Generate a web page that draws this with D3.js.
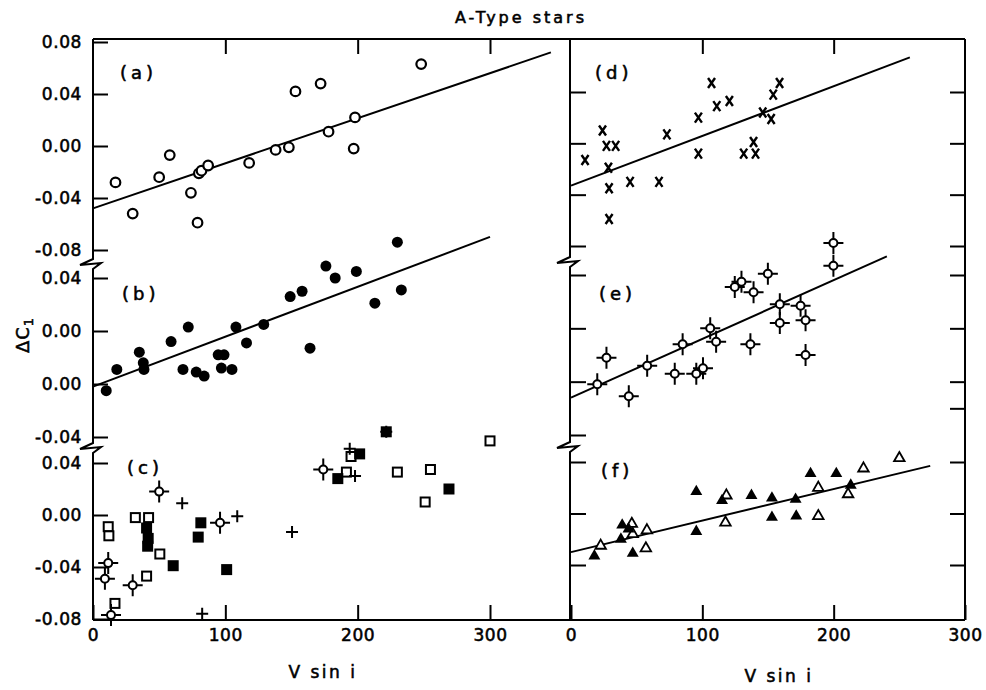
<!DOCTYPE html>
<html>
<head>
<meta charset="utf-8">
<script src="https://cdn.jsdelivr.net/npm/d3@7"></script>
<style>
  body { margin: 0; background: #fff; }
  text { font-family: "DejaVu Sans", sans-serif; fill: #000; stroke: #000; stroke-width: 0.55px; }
</style>
</head>
<body>
<svg width="986" height="690"></svg>
<script>
// --- data (V sin i, delta c1) ---
var xTicks = [0, 100, 200, 300];

var aOpen = [[17,-0.028],[30,-0.052],[50,-0.024],[58,-0.007],[74,-0.036],[79,-0.059],[80,-0.021],[82,-0.019],
             [87,-0.015],[118,-0.013],[138,-0.003],[148,-0.001],[153,0.042],[172,0.048],[178,0.011],
             [198,0.022],[197,-0.002],[248,0.063]];
var aLine = [[0,-0.048],[346,0.072]];

var bFilled = [[10,-0.045],[18,-0.029],[35,-0.016],[38,-0.024],[38.5,-0.029],[59,-0.008],[68,-0.029],[72,0.003],
               [78,-0.031],[84,-0.034],[94.6,-0.018],[99,-0.018],[97,-0.028],[105,-0.029],[108,0.003],
               [116,-0.009],[129,0.005],[149,0.026],[158,0.030],[164,-0.013],[176,0.049],[183,0.040],
               [199,0.045],[213,0.021],[233,0.031],[230,0.067]];
var bLine = [[0,-0.042],[300,0.071]];

var cOpenSq = [[11.5,-0.009],[12,-0.016],[32,-0.002],[42,-0.002],[50.5,-0.030],[40.5,-0.047],[16.6,-0.068],
               [195,0.045],[191.5,0.033],[230,0.033],[255,0.035],[251,0.010],[300,0.057]];
var cFilledSq = [[40.5,-0.010],[41.7,-0.018],[41.3,-0.024],[60.6,-0.039],[81.5,-0.006],[79.5,-0.017],
                 [101,-0.042],[185,0.028],[201.5,0.047],[269,0.020],[221.6,0.064]];
var cPlus = [[67.4,0.009],[109,-0.001],[150.4,-0.013],[82.5,-0.076],[194,0.051],[198,0.030],[221.6,0.064]];
var cCircCross = [[50,0.018],[96,-0.006],[30,-0.054],[9,-0.049],[11.5,-0.037],[13.6,-0.077],[174,0.035]];

var dCross = [[10.7,-0.013],[24,0.010],[27,-0.002],[34,-0.002],[28.5,-0.019],[29,-0.035],[29,-0.059],[45,-0.030],
              [67,-0.030],[73,0.007],[97,0.020],[97,-0.008],[107,0.047],[111,0.029],[120.6,0.033],
              [131.5,-0.008],[140.5,-0.008],[139,0.001],[146,0.024],[152.4,0.019],[154,0.038],[158.8,0.047]];
var dLine = [[0,-0.033],[258,0.067]];

var eCircCross = [[20,-0.042],[27,-0.022],[44,-0.051],[58,-0.028],[79,-0.034],[85,-0.012],[95.4,-0.034],
                  [100.5,-0.030],[106,0.000],[110.5,-0.010],[124.7,0.031],[129.8,0.035],[139,0.027],
                  [136.6,-0.012],[149.9,0.041],[159,0.018],[159,0.004],[174.8,0.017],[178.6,0.006],
                  [178.6,-0.020],[199.8,0.064],[199.8,0.047]];
var eLine = [[0,-0.052],[240.5,0.054]];

var fFilled = [[17.8,-0.033],[38,-0.020],[39,-0.009],[43.8,-0.012],[47,-0.031],[95.4,0.017],[95.4,-0.014],
               [115,0.010],[137.4,0.014],[153,0.012],[153,-0.003],[171,0.011],[171.5,-0.002],[182.4,0.031],
               [202,0.031],[213,0.022]];
var fOpen = [[22.6,-0.025],[46.3,-0.008],[47,-0.016],[57.8,-0.013],[57,-0.027],[118.3,0.014],[117.6,-0.007],
             [188.3,0.020],[188.3,-0.002],[211,0.015],[222.7,0.035],[250,0.043]];
var fLine = [[0,-0.030],[273.5,0.037]];

// tick values and their printed labels (the figure prints 0.00 twice in (b))
var aTicks = [0.08, 0.04, 0, -0.04, -0.08], aLabels = ["0.08","0.04","0.00","-0.04","-0.08"];
var bTicks = [0.04, 0, -0.04, -0.08],       bLabels = ["0.04","0.00","0.00","-0.04"];
var cTicks = [0.04, 0, -0.04, -0.08],       cLabels = ["0.04","0.00","-0.04","-0.08"];

// --- layout ---
var svg = d3.select("svg");
var yTop = 39, yBot = 620, xL0 = 93, xMid = 570, xR1 = 965;

var xLeft = d3.scaleLinear().domain([0, 300]).range([93, 490]);
var xRight = d3.scaleLinear().domain([0, 300]).range([571, 965]);

var yA = d3.scaleLinear().domain([-0.08, 0.08]).range([250, 42]);
var yB = d3.scaleLinear().domain([-0.08, 0.04]).range([437, 278]);
var yC = d3.scaleLinear().domain([-0.08, 0.04]).range([619, 463]);
var yD = d3.scaleLinear().domain([-0.08, 0.04]).range([246, 92]);
var yE = d3.scaleLinear().domain([-0.08, 0.04]).range([435, 275]);
var yF = d3.scaleLinear().domain([-0.04, 0.04]).range([565, 462]);

var ink = "#000";

// frame
var g = svg.append("g").attr("stroke", ink).attr("stroke-width", 2).attr("fill", "none");
g.append("line").attr("x1", xL0).attr("x2", xR1).attr("y1", yTop).attr("y2", yTop);
g.append("line").attr("x1", xL0).attr("x2", xR1).attr("y1", yBot).attr("y2", yBot);
g.append("line").attr("x1", xR1).attr("x2", xR1).attr("y1", yTop).attr("y2", yBot);

function brokenAxis(x0, breaks) {
  var pts = "M" + x0 + "," + yTop;
  breaks.forEach(function(yb) {
    pts += "L" + x0 + "," + (yb - 5) + "L" + (x0 - 13) + "," + (yb + 1) +
           "L" + (x0 + 8) + "," + (yb - 1) + "L" + x0 + "," + (yb + 5);
  });
  pts += "L" + x0 + "," + yBot;
  g.append("path").attr("d", pts);
}
brokenAxis(xL0, [264, 448]);
brokenAxis(xMid, [262, 447]);

// axes
function styleAxis(sel) {
  sel.select(".domain").remove();
  sel.selectAll(".tick line").attr("stroke", ink).attr("stroke-width", 2);
  sel.selectAll(".tick text").attr("font-size", 17).attr("letter-spacing", 0.6);
}
function yAxisLeft(scale, vals, labels) {
  svg.append("g").attr("transform", "translate(" + xL0 + ",0)")
    .call(d3.axisLeft(scale).tickValues(vals).tickSize(-15).tickPadding(11)
      .tickFormat(function(d, i) { return labels[i]; }))
    .call(styleAxis);
}
yAxisLeft(yA, aTicks, aLabels);
yAxisLeft(yB, bTicks, bLabels);
yAxisLeft(yC, cTicks, cLabels);

// unlabeled inward ticks on the middle line and the right edge
function yAxisPlain(scale, vals, x, onRight) {
  var ax = onRight ? d3.axisRight(scale).tickSize(-15) : d3.axisLeft(scale).tickSize(-15);
  svg.append("g").attr("transform", "translate(" + x + ",0)")
    .call(ax.tickValues(vals).tickFormat(""))
    .call(styleAxis);
}
yAxisPlain(yD, [0.04, 0, -0.04, -0.08], xMid + 1, false);
yAxisPlain(yE, [0.04, 0, -0.04, -0.08], xMid + 1, false);
yAxisPlain(yF, [0.04, 0, -0.04], xMid + 1, false);
yAxisPlain(yD, [0.04, 0, -0.04, -0.08], xR1, true);
yAxisPlain(yE, [0.04, 0, -0.04, -0.06], xR1, true);
yAxisPlain(yF, [0.04, 0, -0.04], xR1, true);

function xAxes(scale, topVals) {
  svg.append("g").attr("transform", "translate(0," + yBot + ")")
    .call(d3.axisBottom(scale).tickValues(xTicks).tickSize(-15).tickPadding(9).tickFormat(d3.format("d")))
    .call(styleAxis);
  svg.append("g").attr("transform", "translate(0," + yTop + ")")
    .call(d3.axisTop(scale).tickValues(topVals).tickSize(-15).tickFormat(""))
    .call(styleAxis);
}
xAxes(xLeft, [100, 200, 300]);
xAxes(xRight, [100, 200]);

// fit lines
var lineGen = function(x, y) { return d3.line().x(function(d) { return x(d[0]); }).y(function(d) { return y(d[1]); }); };
[[aLine, xLeft, yA], [bLine, xLeft, yB], [dLine, xRight, yD], [eLine, xRight, yE], [fLine, xRight, yF]]
  .forEach(function(p) {
    svg.append("path").datum(p[0]).attr("d", lineGen(p[1], p[2]))
      .attr("fill", "none").attr("stroke", ink).attr("stroke-width", 2);
  });

// markers
function marks(data, x, y, draw) {
  var sel = svg.append("g").selectAll("g").data(data).enter().append("g")
    .attr("transform", function(d) { return "translate(" + x(d[0]) + "," + y(d[1]) + ")"; });
  draw(sel);
}
function openCircle(sel) { sel.append("circle").attr("r", 4.8).attr("fill", "#fff").attr("stroke", ink).attr("stroke-width", 2.2); }
function filledCircle(sel) { sel.append("circle").attr("r", 5.5).attr("fill", ink); }
function openSquare(sel) { sel.append("rect").attr("x", -4.5).attr("y", -4.5).attr("width", 9).attr("height", 9)
  .attr("fill", "#fff").attr("stroke", ink).attr("stroke-width", 2); }
function filledSquare(sel) { sel.append("rect").attr("x", -5.5).attr("y", -5.5).attr("width", 11).attr("height", 11).attr("fill", ink); }
function plus(sel) { sel.append("path").attr("d", "M-6,0H6M0,-6V6").attr("stroke", ink).attr("stroke-width", 2); }
function cross(sel) { sel.append("path").attr("d", "M-3.5,-5L3.5,5M3.5,-5L-3.5,5").attr("stroke", ink).attr("stroke-width", 2.4); }
function circCross(sel) {
  sel.append("path").attr("d", "M-10,0H-4M4,0H10M0,-11V-4M0,4V11").attr("stroke", ink).attr("stroke-width", 2);
  sel.append("circle").attr("r", 4).attr("fill", "#fff").attr("stroke", ink).attr("stroke-width", 2);
}
function filledTri(sel) { sel.append("path").attr("d", d3.symbol().type(d3.symbolTriangle).size(62)).attr("fill", ink); }
function openTri(sel) { sel.append("path").attr("d", d3.symbol().type(d3.symbolTriangle).size(48))
  .attr("fill", "#fff").attr("stroke", ink).attr("stroke-width", 1.8); }

marks(aOpen, xLeft, yA, openCircle);
marks(bFilled, xLeft, yB, filledCircle);
marks(cOpenSq, xLeft, yC, openSquare);
marks(cFilledSq, xLeft, yC, filledSquare);
marks(cPlus, xLeft, yC, plus);
marks(cCircCross, xLeft, yC, circCross);
marks(dCross, xRight, yD, cross);
marks(eCircCross, xRight, yE, circCross);
marks(fOpen, xRight, yF, openTri);
marks(fFilled, xRight, yF, filledTri);

// panel letters
var panelLabels = [["(a)", 120, 79], ["(b)", 122, 300], ["(c)", 127, 474],
                   ["(d)", 595, 79], ["(e)", 599, 300], ["(f)", 601, 477]];
svg.selectAll(".plab").data(panelLabels).enter().append("text")
  .attr("x", function(d) { return d[1]; }).attr("y", function(d) { return d[2]; })
  .attr("font-size", 18).attr("letter-spacing", 4).text(function(d) { return d[0]; });

// titles
svg.append("text").attr("x", 521).attr("y", 23).attr("text-anchor", "middle")
  .attr("font-size", 16).attr("letter-spacing", 3).text("A-Type stars");
svg.append("text").attr("x", 323).attr("y", 678).attr("text-anchor", "middle")
  .attr("font-size", 17).attr("letter-spacing", 2.5).text("V sin i");
svg.append("text").attr("x", 779).attr("y", 682).attr("text-anchor", "middle")
  .attr("font-size", 17).attr("letter-spacing", 2.5).text("V sin i");
var yl = svg.append("text").attr("transform", "translate(29,335) rotate(-90)").attr("text-anchor", "middle")
  .attr("font-size", 18).attr("letter-spacing", 1);
yl.append("tspan").text("\u0394C");
yl.append("tspan").attr("font-size", 13).attr("dy", 4).text("1");
</script>
</body>
</html>
